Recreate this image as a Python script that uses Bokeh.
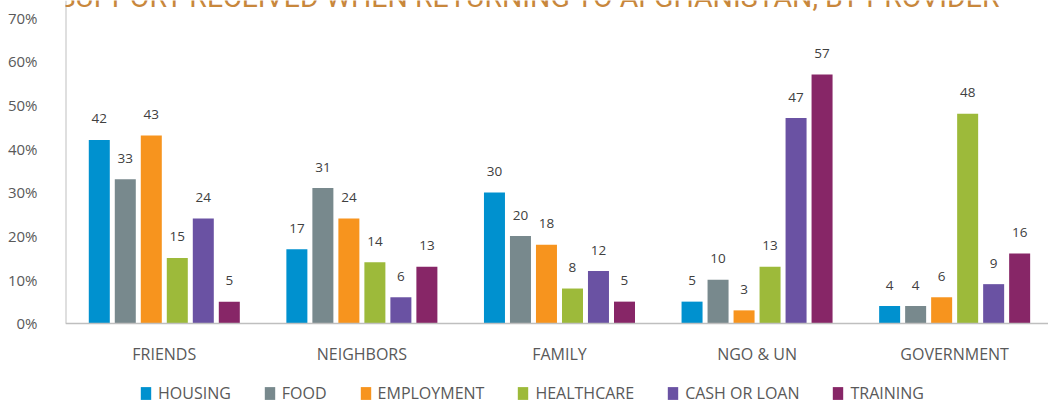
from bokeh.plotting import figure
from bokeh.models import Range1d, FixedTicker, Legend, LegendItem, Label, ColumnDataSource, Span
from bokeh.core.properties import value
from bokeh.embed import file_html
from bokeh.resources import INLINE

# ---- data ----
categories = ["FRIENDS", "NEIGHBORS", "FAMILY", "NGO & UN", "GOVERNMENT"]
series_names = ["HOUSING", "FOOD", "EMPLOYMENT", "HEALTHCARE", "CASH OR LOAN", "TRAINING"]
housing = [42, 17, 30, 5, 4]
food = [33, 31, 20, 10, 4]
employment = [43, 24, 18, 3, 6]
healthcare = [15, 14, 8, 13, 48]
cash_or_loan = [24, 6, 12, 47, 9]
training = [5, 13, 5, 57, 16]
y_ticks = [0, 10, 20, 30, 40, 50, 60, 70]
title_text = "SUPPORT RECEIVED WHEN RETURNING TO AFGHANISTAN, BY PROVIDER"

series_values = [housing, food, employment, healthcare, cash_or_loan, training]
colors = ["#0091CF", "#78898D", "#F7941E", "#9DBA3A", "#6A52A3", "#872667"]

FONT = "Open Sans"
TEXT_COLOR = "#595959"
AXIS_COLOR = "#BFBFBF"

W, H = 1048, 404
Y0, Y1 = -18.54, 73.91
X1 = 4.975
p = figure(width=W, height=H, output_backend="svg", toolbar_location=None,
           x_range=Range1d(0, X1), y_range=Range1d(Y0, Y1),
           min_border_left=65, min_border_right=0, min_border_top=0, min_border_bottom=0)
p.outline_line_color = None
p.xgrid.grid_line_color = None
p.ygrid.grid_line_color = None
p.xaxis.visible = False
p.background_fill_color = "white"

# axis lines (value axis from 0 up, category axis at 0)
p.segment(x0=[0], y0=[0], x1=[0], y1=[Y1], line_color=AXIS_COLOR, line_width=2)
p.add_layout(Span(location=0, dimension="width", line_color=AXIS_COLOR, line_width=1.5))

pitch = 0.1316
bar_w = 0.1063
n = len(series_names)
items = []
for j, (name, vals, col) in enumerate(zip(series_names, series_values, colors)):
    xs = [i + 0.5 + (j - (n - 1) / 2) * pitch for i in range(len(categories))]
    src = ColumnDataSource(dict(x=xs, top=vals, lab=[str(v) for v in vals]))
    r = p.vbar(x="x", top="top", width=bar_w, bottom=0, source=src,
               fill_color=col, line_color=None)
    p.text(x="x", y="top", text="lab", source=src, text_align="center",
           text_baseline="middle", y_offset=-21, text_font=value(FONT),
           text_font_size="13.5px", text_color="#404040")
    items.append(LegendItem(label=name, renderers=[r]))

# category labels
cat_src = ColumnDataSource(dict(x=[i + 0.5 for i in range(len(categories))],
                                y=[0] * len(categories), t=categories))
p.text(x="x", y="y", text="t", source=cat_src, text_align="center",
       text_baseline="middle", y_offset=31, text_font=value(FONT),
       text_font_size="16px", text_color=TEXT_COLOR)

ya = p.yaxis[0]
ya.ticker = FixedTicker(ticks=y_ticks)
ya.major_label_overrides = {t: f"{t}%" for t in y_ticks}
ya.major_tick_out = 0
ya.major_tick_in = 0
ya.minor_tick_out = 0
ya.minor_tick_in = 0
ya.axis_line_color = None
ya.major_label_standoff = 28
ya.major_label_text_font = FONT
ya.major_label_text_font_size = "15px"
ya.major_label_text_color = TEXT_COLOR

legend = Legend(items=items, orientation="horizontal", location=(74, 0),
                glyph_width=13, glyph_height=16, label_standoff=6, spacing=32,
                padding=0, margin=0, border_line_color=None, background_fill_alpha=0,
                label_text_font=FONT, label_text_font_size="16px",
                label_text_color=TEXT_COLOR, label_height=16)
p.add_layout(legend)

title = Label(x=464, y=407, x_units="screen", y_units="screen", text=title_text,
              text_align="center", text_baseline="alphabetic",
              text_font="Roboto", text_font_size="28.5px", text_color="#C8873C")
p.add_layout(title)

open("out.html", "w").write(file_html(p, INLINE))
